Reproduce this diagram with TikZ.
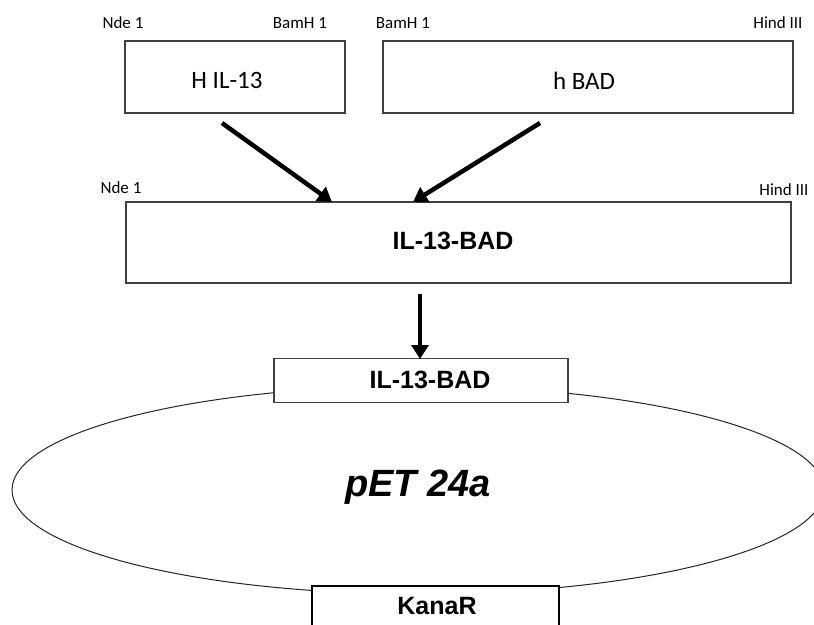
\documentclass[tikz,border=0pt]{standalone}
\usepackage{fontspec}
\setmainfont{Carlito}
\newfontfamily\arialf{Liberation Sans}
\usetikzlibrary{arrows.meta}
\tikzset{
  box/.style={draw=black!75, line width=1.2pt, fill=white, inner sep=0pt},
  site/.style={font=\fontsize{17}{20}\selectfont, inner sep=0pt},
  cal/.style={font=\fontsize{25}{30}\selectfont, inner sep=0pt},
  bld/.style={font=\arialf\bfseries\fontsize{25}{30}\selectfont, inner sep=0pt},
  arr/.style={line width=4.5pt, -{Triangle[length=14pt,width=17pt]}, shorten >=0pt},
}
\begin{document}
\begin{tikzpicture}[x=1pt,y=-1pt]
\path[use as bounding box] (0,0) rectangle (814,624);
\clip (0,0) rectangle (814,624);
% plasmid
\draw[line width=1pt, black!85] (418,490) ellipse [x radius=406, y radius=104];
% boxes
\node[box, minimum width=220pt, minimum height=72pt] (hil) at (235,77) {};
\node[box, minimum width=410pt, minimum height=72pt] (hbad) at (588,77) {};
\node[box, minimum width=665pt, minimum height=81pt] (big) at (458.5,242.5) {};
\node[box, minimum width=294pt, minimum height=44pt] (small) at (421,380.5) {};
\node[box, draw=black, minimum width=247pt, minimum height=50pt] (kana) at (435.5,611) {};
% texts
\node[cal] (thil) at (227,80) {H IL-13};
\node[cal] (thbad) at (584,81) {h BAD};
\node[bld] (tbig) at (453,241) {IL-13-BAD};
\node[bld] (tsmall) at (430,380) {IL-13-BAD};
\node[bld] (tkana) at (437,606) {KanaR};
\node[font=\arialf\bfseries\itshape\fontsize{38}{44}\selectfont, inner sep=0pt] (tpet) at (418,487) {pET 24a};
% restriction sites
\node[site] (n1) at (123,23) {Nde 1};
\node[site] (b1) at (300,23) {BamH 1};
\node[site] (b2) at (403,23) {BamH 1};
\node[site] (h1) at (778,23) {Hind III};
\node[site] (n2) at (121,188) {Nde 1};
\node[site] (h2) at (784,190) {Hind III};
% arrows
\coordinate (s1) at (222,123);
\coordinate (e1) at (332,202);
\coordinate (s2) at (540,123);
\coordinate (e2) at (413,202);
\coordinate (s3) at (420,294);
\coordinate (e3) at (420,359);
\draw[arr] (s1) -- (e1);
\draw[arr] (s2) -- (e2);
\draw[arr] (s3) -- (e3);
\end{tikzpicture}
\end{document}
